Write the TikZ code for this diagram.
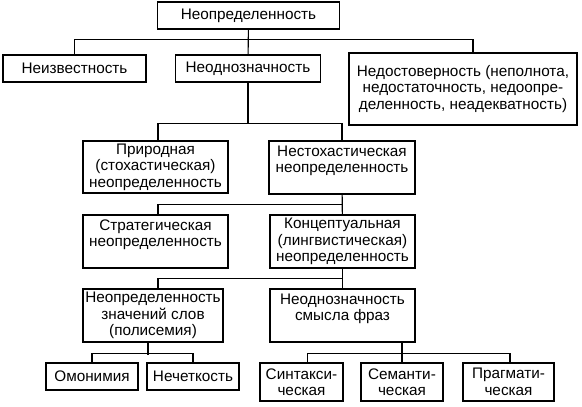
\documentclass[tikz,border=0pt]{standalone}
\usepackage{fontspec}
\setmainfont{Liberation Sans}
\usetikzlibrary{positioning}

\begin{document}
\begin{tikzpicture}[x=1pt, y=-1pt, line width=1.1pt,
        blk/.style={draw, rectangle, align=center, inner sep=0pt, font=\fontsize{15.3}{16.4}\selectfont}]
        \useasboundingbox (0,0) rectangle (582,407);
        % boxes
        \node[blk, minimum width=182, minimum height=27] (unc) at (248.5,15.5) {Неопределенность};
        \node[blk, minimum width=143, minimum height=27] (neizv) at (74.5,68.5) {Неизвестность};
        \node[blk, minimum width=145, minimum height=27] (neodn) at (248,68.5) {Неоднозначность};
        \node[blk, minimum width=228, minimum height=72] (nedost) at (463,89) {Недостоверность (неполнота,\\недостаточность, недоопре-\\деленность, неадекватность)};
        \node[blk, minimum width=145, minimum height=52] (prir) at (155.5,167) {Природная\\(стохастическая)\\неопределенность};
        \node[blk, minimum width=146, minimum height=53] (nestokh) at (342,167.5) {Нестохастическая\\неопределенность\\\mbox{}};
        \node[blk, minimum width=145, minimum height=53] (strat) at (155.5,241.5) {Стратегическая\\неопределенность\\\mbox{}};
        \node[blk, minimum width=145, minimum height=53] (konc) at (342.5,241.5) {Концептуальная\\(лингвистическая)\\неопределенность};
        \node[blk, minimum width=140, minimum height=53] (polis) at (153,315.5) {Неопределенность\\значений слов\\(полисемия)};
        \node[blk, minimum width=145, minimum height=53] (fraz) at (342.5,315.5) {Неоднозначность\\смысла фраз\\\mbox{}};
        \node[blk, minimum width=92, minimum height=27] (omon) at (92,376.5) {Омонимия};
        \node[blk, minimum width=92, minimum height=27] (nechet) at (193,376.5) {Нечеткость};
        \node[blk, minimum width=83, minimum height=38] (synt) at (301.5,382) {Синтакси-\\ческая};
        \node[blk, minimum width=82, minimum height=38] (sem) at (402,382) {Семанти-\\ческая};
        \node[blk, minimum width=91, minimum height=38] (prag) at (508.5,382) {Прагмати-\\ческая};
        % connectors
        \draw (unc) -- (neodn);
        \draw (neizv.north) |- ([yshift=15pt]neodn.north) -| ([xshift=10pt]nedost.north);
        \draw (neodn.south) |- ([yshift=17pt]nestokh.north) -- (nestokh.north);
        \draw ([xshift=2.5pt]prir.north) |- ([yshift=17pt]nestokh.north);
        \draw (nestokh) -- (konc);
        \draw ([xshift=2.5pt]strat.north) |- ([yshift=10pt]konc.north);
        \draw (konc) -- (fraz);
        \draw ([xshift=5pt]polis.north) |- ([yshift=10pt]fraz.north);
        \draw ([xshift=-5pt]polis.south) -- ++(0,12);
        \draw (omon.north) |- ([yshift=9pt]nechet.north) -- (nechet.north);
        \draw (sem.north) -- (sem.north |- fraz.south);
        \draw ([xshift=6pt]synt.north) |- ([yshift=9pt]sem.north) -| ([xshift=1.5pt]prag.north);
\end{tikzpicture}
\end{document}
